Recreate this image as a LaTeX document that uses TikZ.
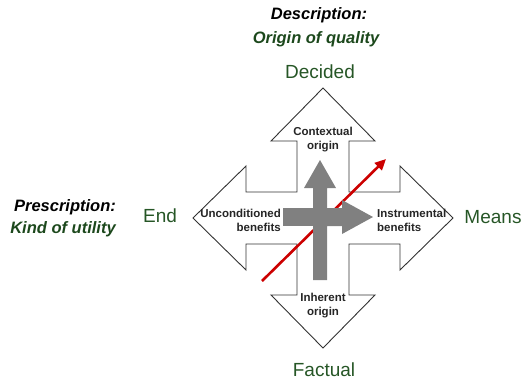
\documentclass[tikz,border=0pt]{standalone}
\usepackage{fontspec}
\setmainfont{Liberation Sans}
\usetikzlibrary{arrows.meta}
\definecolor{labelgreen}{RGB}{38,86,38}
\definecolor{titlegreen}{RGB}{28,72,28}
\definecolor{crossgray}{RGB}{128,128,128}
\definecolor{trendred}{RGB}{204,0,0}

\begin{document}
\begin{tikzpicture}[x=1pt,y=-1pt,
  axislabel/.style={text=labelgreen,font=\fontsize{19}{21}\selectfont,inner sep=0pt},
  headline/.style={font=\fontsize{16.5}{18}\selectfont\bfseries\itshape,inner sep=0pt},
  inlabel/.style={font=\fontsize{11.5}{14}\selectfont\bfseries,inner sep=0pt,text=black!85}]
\useasboundingbox (0,0) rectangle (528,384);

% Four-way outline arrow
\draw[line width=0.9pt, black!80, fill=white, shift={(323,218)}]
  (0,-130) -- (52,-77) -- (26,-77) -- (26,-26) -- (77,-26) -- (77,-52) -- (130,0)
  -- (77,52) -- (77,26) -- (26,26) -- (26,77) -- (52,77) -- (0,130)
  -- (-52,77) -- (-26,77) -- (-26,26) -- (-77,26) -- (-77,52) -- (-130,0)
  -- (-77,-52) -- (-77,-26) -- (-26,-26) -- (-26,-77) -- (-52,-77) -- cycle;

% Red trend arrow (under the gray cross)
\coordinate (redStart) at (262,281);
\coordinate (redEnd) at (386,159);
\draw[trendred, line width=2.6pt, -{Triangle[length=11pt,width=10pt]}] (redStart) -- (redEnd);

% Gray cross arrows
\fill[crossgray] (313,280) -- (313,188) -- (304,188) -- (320,160) -- (336,188) -- (327,188)
  -- (327,208) -- (342,208) -- (342,200) -- (373,217) -- (342,234) -- (342,226)
  -- (327,226) -- (327,280) -- cycle;
\fill[crossgray] (283,208) rectangle (313,226);

% Headings
\node[headline] (descTitle) at (319,15) {Description:};
\node[headline, text=titlegreen] (descSub) at (316,39) {Origin of quality};
\node[headline] (prescTitle) at (65,207) {Prescription:};
\node[headline, text=titlegreen] (prescSub) at (63,229) {Kind of utility};

% Axis ends
\node[axislabel] (decided) at (320,72) {Decided};
\node[axislabel] (factual) at (324,370) {Factual};
\node[axislabel] (endLbl) at (160,216) {End};
\node[axislabel] (means) at (493,217) {Means};

% Labels inside the arrow heads
\node[inlabel, align=center] (contextual) at (323,140) {Contextual\\origin};
\node[inlabel, align=right, anchor=east] (uncond) at (281,220) {Unconditioned\\benefits};
\node[inlabel, align=left, anchor=west] (instr) at (377,220) {Instrumental\\benefits};
\node[inlabel, align=center] (inherent) at (323,306) {Inherent\\origin};
\end{tikzpicture}
\end{document}
